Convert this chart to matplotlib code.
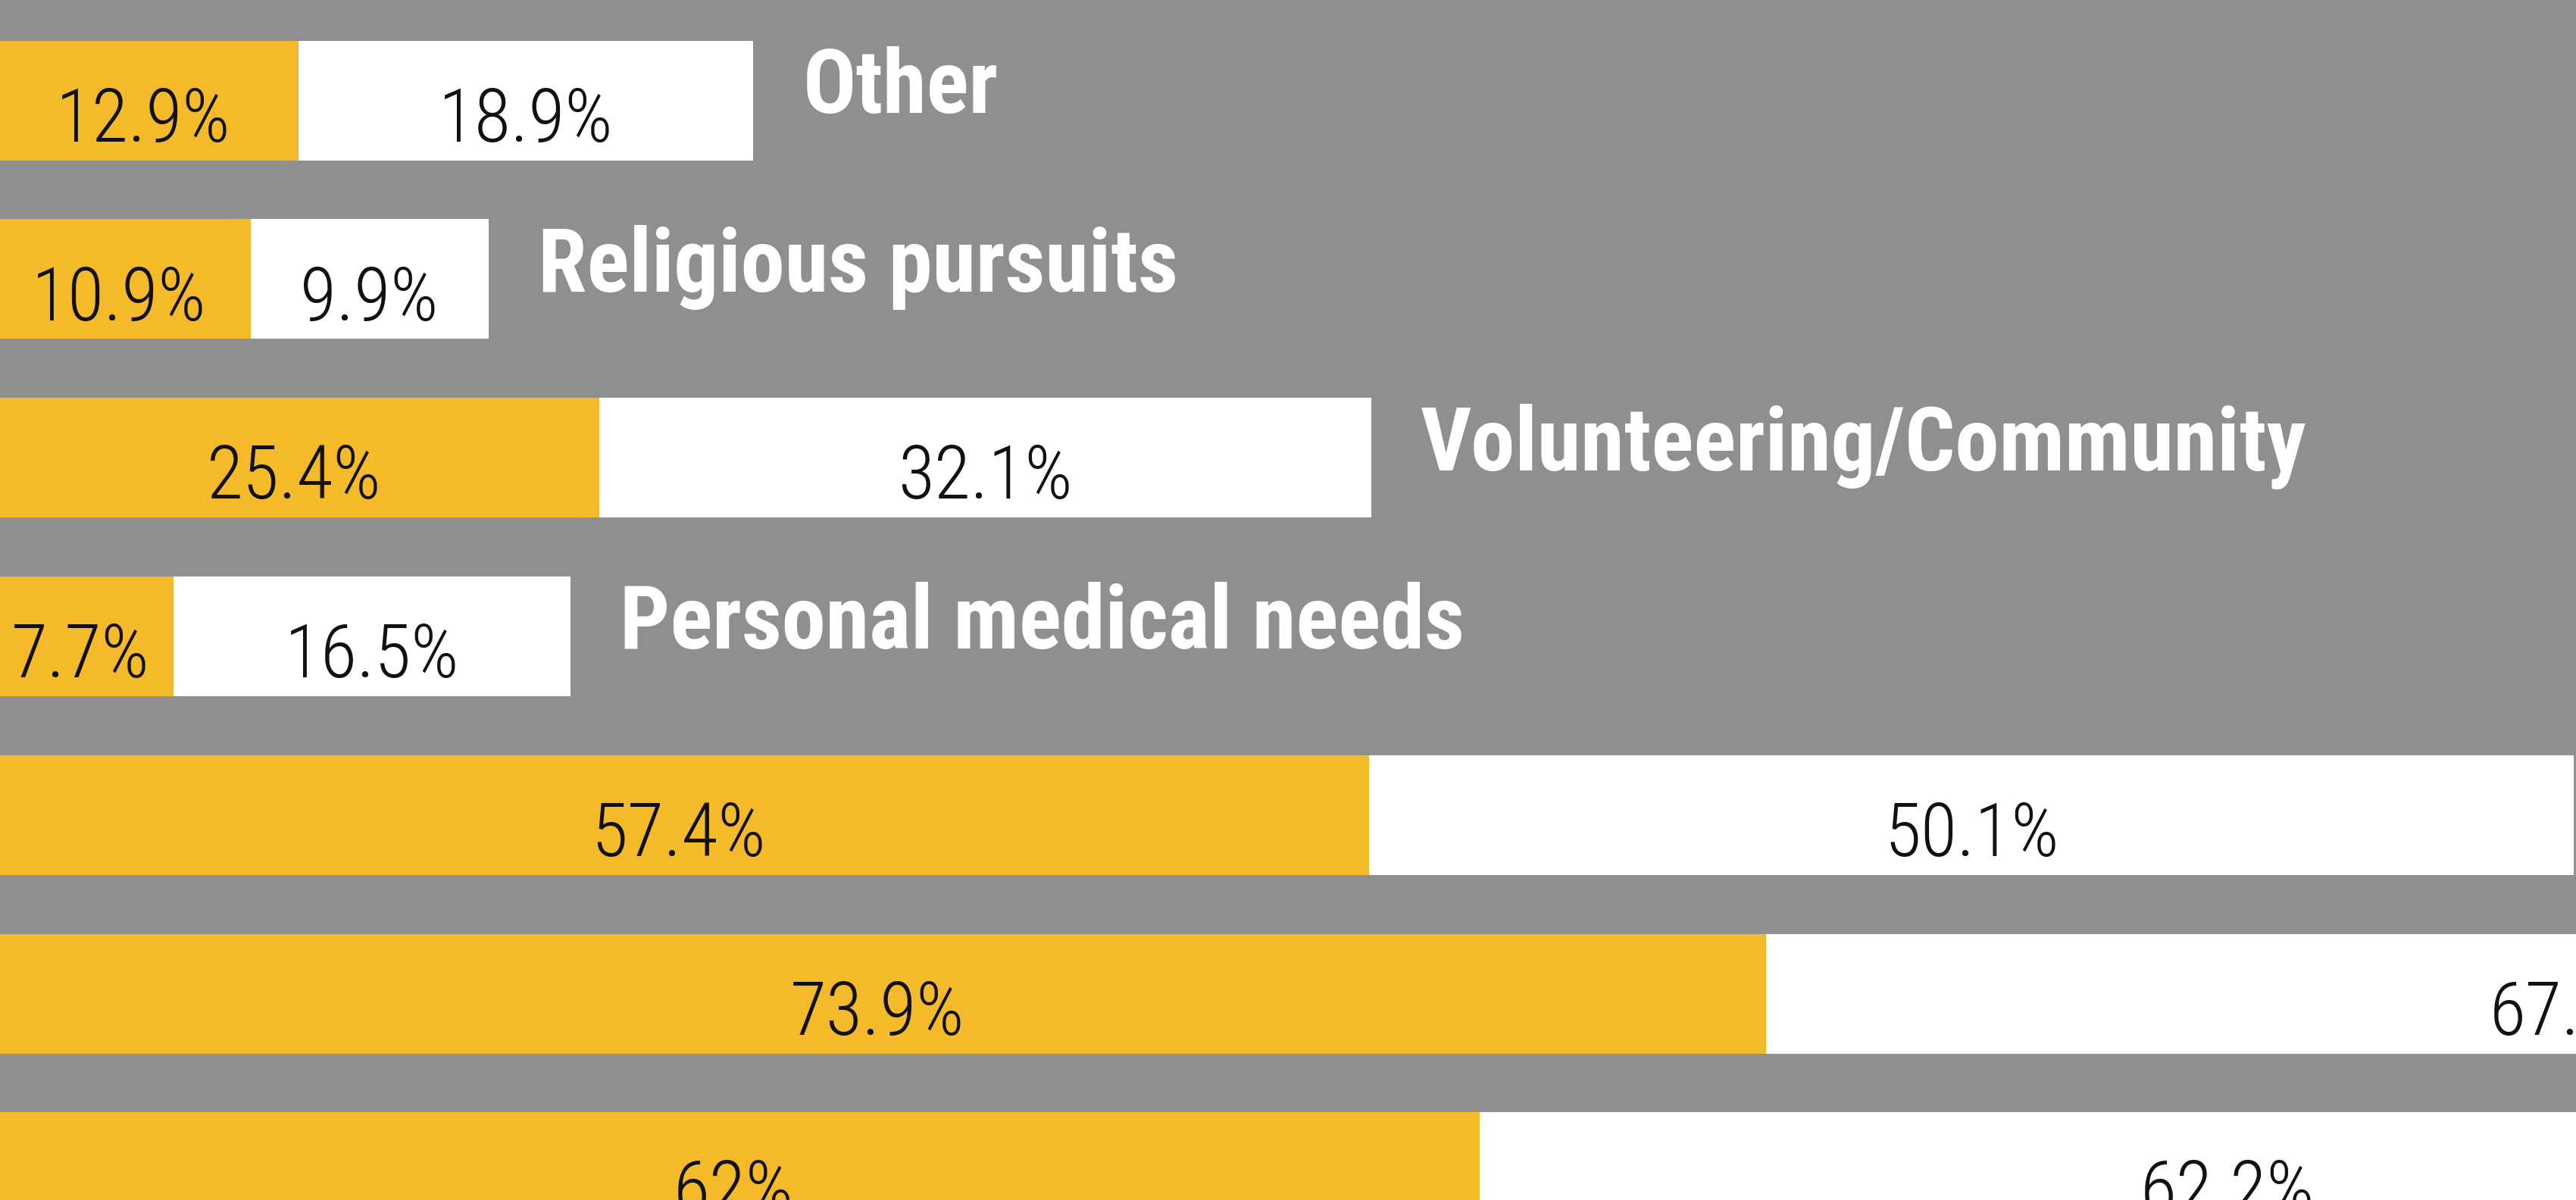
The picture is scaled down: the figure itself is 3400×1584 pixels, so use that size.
import matplotlib
matplotlib.use("Agg")
import matplotlib.pyplot as plt
from matplotlib import font_manager

# data (rows top to bottom, percent)
categories = ["Other", "Religious pursuits", "Volunteering/Community",
              "Personal medical needs", "", "", ""]
yellow_vals = [12.9, 10.9, 25.4, 7.7, 57.4, 73.9, 62.0]
white_vals = [18.9, 9.9, 32.1, 16.5, 50.1, 67.4, 62.2]
yellow_labels = ["12.9%", "10.9%", "25.4%", "7.7%", "57.4%", "73.9%", "62%"]
white_labels = ["18.9%", "9.9%", "32.1%", "16.5%", "50.1%", "67.4%", "62.2%"]

GRAY = "#8f8f8f"
YELLOW = "#f5ba2a"

# pick a narrow family if one is around
names = {f.name for f in font_manager.fontManager.ttflist}
family = "DejaVu Sans"
for cand in ["Roboto Condensed", "Liberation Sans Narrow", "Roboto"]:
    if cand in names:
        family = cand
        break

fig = plt.figure(figsize=(34, 15.84), dpi=100, facecolor=GRAY)
ax = fig.add_axes([0, 0, 1, 1])
ax.set_facecolor(GRAY)

rows = list(range(len(categories)))
ax.barh(rows, yellow_vals, height=0.67, color=YELLOW, linewidth=0)
ax.barh(rows, white_vals, left=yellow_vals, height=0.67, color="white",
        linewidth=0)

for i in rows:
    y0, w0 = yellow_vals[i], white_vals[i]
    ax.text(y0 / 2, i + 0.23, yellow_labels[i], ha="center", va="baseline",
            fontsize=71, family=family, fontweight="light", color="#111111")
    ax.text(y0 + w0 / 2, i + 0.23, white_labels[i], ha="center",
            va="baseline", fontsize=71, family=family, fontweight="light",
            color="#111111")
    if categories[i]:
        ax.annotate(categories[i], (y0 + w0, i + 0.07),
                    xytext=(47, 0), textcoords="offset points",
                    ha="left", va="baseline", fontsize=84, family=family,
                    fontweight="bold", color="white")

ax.set_xlim(0.49, 107.58)
ax.set_ylim(6.155, -0.562)
ax.axis("off")

fig.savefig("out.png", dpi=100, facecolor=GRAY)
